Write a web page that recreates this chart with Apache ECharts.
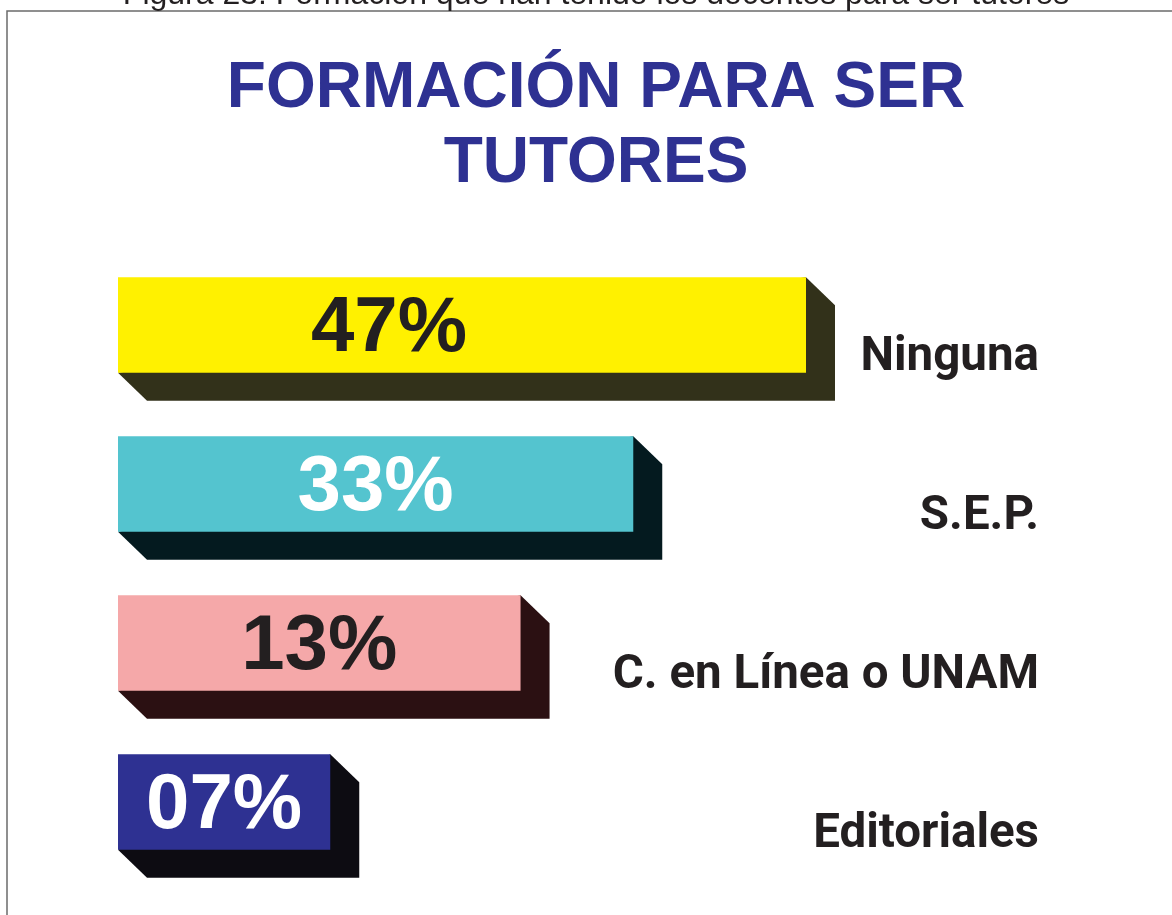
<!DOCTYPE html>
<html lang="es">
<head>
    <meta charset="utf-8">
    <title>Formación para ser tutores</title>
    <script src="https://cdn.jsdelivr.net/npm/echarts@6/dist/echarts.min.js"></script>
    <style>
        html, body { margin: 0; padding: 0; background: #fff; }
        #main { width: 1172px; height: 915px; }
    </style>
</head>
<body>
    <div id="main"></div>
    <script type="text/javascript">
        // categorias y etiquetas
        var categories = ['Ninguna', 'S.E.P.', 'C. en Línea o UNAM', 'Editoriales'];
        var pctLabels = ['47%', '33%', '13%', '07%'];
        // largo dibujado de cada barra (el original no esta a escala)
        var barLength = [47, 35.2, 27.5, 14.5];

        var faceColors = ['#FFF100', '#54C4CF', '#F5A8A9', '#2E3192'];
        var sideColors = ['#32311A', '#041A1F', '#2B1012', '#0D0C12'];
        var labelColors = ['#231F20', '#FFFFFF', '#231F20', '#FFFFFF'];

        var myChart = echarts.init(document.getElementById('main'));

        var seriesData = barLength.map(function (v, i) { return [v, i]; });

        function renderBar(params, api) {
            var i = params.dataIndex;
            var cs = params.coordSys;
            var start = api.coord([0, api.value(1)]);
            var end = api.coord([api.value(0), api.value(1)]);
            var band = api.size([0, 1])[1];
            var h = band * 0.6;
            var dx = 29, dy = 28;
            var L = start[0], R = end[0];
            var T = start[1] - h / 2, B = start[1] + h / 2;
            return {
                type: 'group',
                children: [
                    {
                        type: 'polygon',
                        shape: { points: [[R, T], [R + dx, T + dy], [R + dx, B + dy], [L + dx, B + dy], [L, B]] },
                        style: { fill: sideColors[i] }
                    },
                    {
                        type: 'rect',
                        shape: { x: L, y: T, width: R - L, height: h },
                        style: { fill: faceColors[i] }
                    },
                    {
                        type: 'text',
                        style: {
                            text: pctLabels[i],
                            x: L + Math.min((R - L) / 2, 271),
                            y: start[1] + 4,
                            align: 'center',
                            verticalAlign: 'middle',
                            fontSize: 78,
                            fontWeight: 'bold',
                            fontFamily: 'Liberation Sans',
                            fill: labelColors[i]
                        }
                    },
                    {
                        // nombre de la categoria, a la derecha y un poco mas abajo
                        type: 'text',
                        style: {
                            text: categories[i],
                            x: cs.x + cs.width + 42.7,
                            y: start[1] + 33,
                            align: 'right',
                            verticalAlign: 'middle',
                            fontSize: 47.5,
                            fontWeight: 'bold',
                            fontFamily: 'Roboto',
                            fill: '#231F20'
                        }
                    }
                ]
            };
        }

        var option = {
            backgroundColor: '#ffffff',
            animation: false,
            title: {
                text: 'FORMACIÓN PARA SER\nTUTORES',
                left: 596,
                top: 52,
                padding: 0,
                textAlign: 'center',
                textStyle: {
                    fontSize: 64,
                    lineHeight: 75,
                    fontWeight: 'bold',
                    fontFamily: 'Liberation Sans',
                    color: '#2E3192'
                }
            },
            graphic: [
                {
                    type: 'rect',
                    z: -1,
                    shape: { x: 7, y: 11, width: 1300, height: 1000 },
                    style: { fill: 'none', stroke: '#6b6b6b', lineWidth: 1.5 }
                },
                {
                    type: 'text',
                    style: {
                        text: 'Figura 23. Formación que han tenido los docentes para ser tutores',
                        x: 596,
                        y: 11,
                        align: 'center',
                        verticalAlign: 'bottom',
                        fontSize: 32,
                        fontFamily: 'Liberation Sans',
                        fill: '#231F20'
                    }
                }
            ],
            grid: {
                left: 118,
                top: 245.5,
                height: 636,
                right: 175.7
            },
            xAxis: {
                type: 'value',
                min: 0,
                max: 60,
                show: false
            },
            yAxis: {
                type: 'category',
                data: categories,
                inverse: true,
                show: false
            },
            series: [
                {
                    type: 'custom',
                    renderItem: renderBar,
                    encode: { x: 0, y: 1 },
                    data: seriesData
                }
            ]
        };
        myChart.setOption(option);
    </script>
</body>
</html>
